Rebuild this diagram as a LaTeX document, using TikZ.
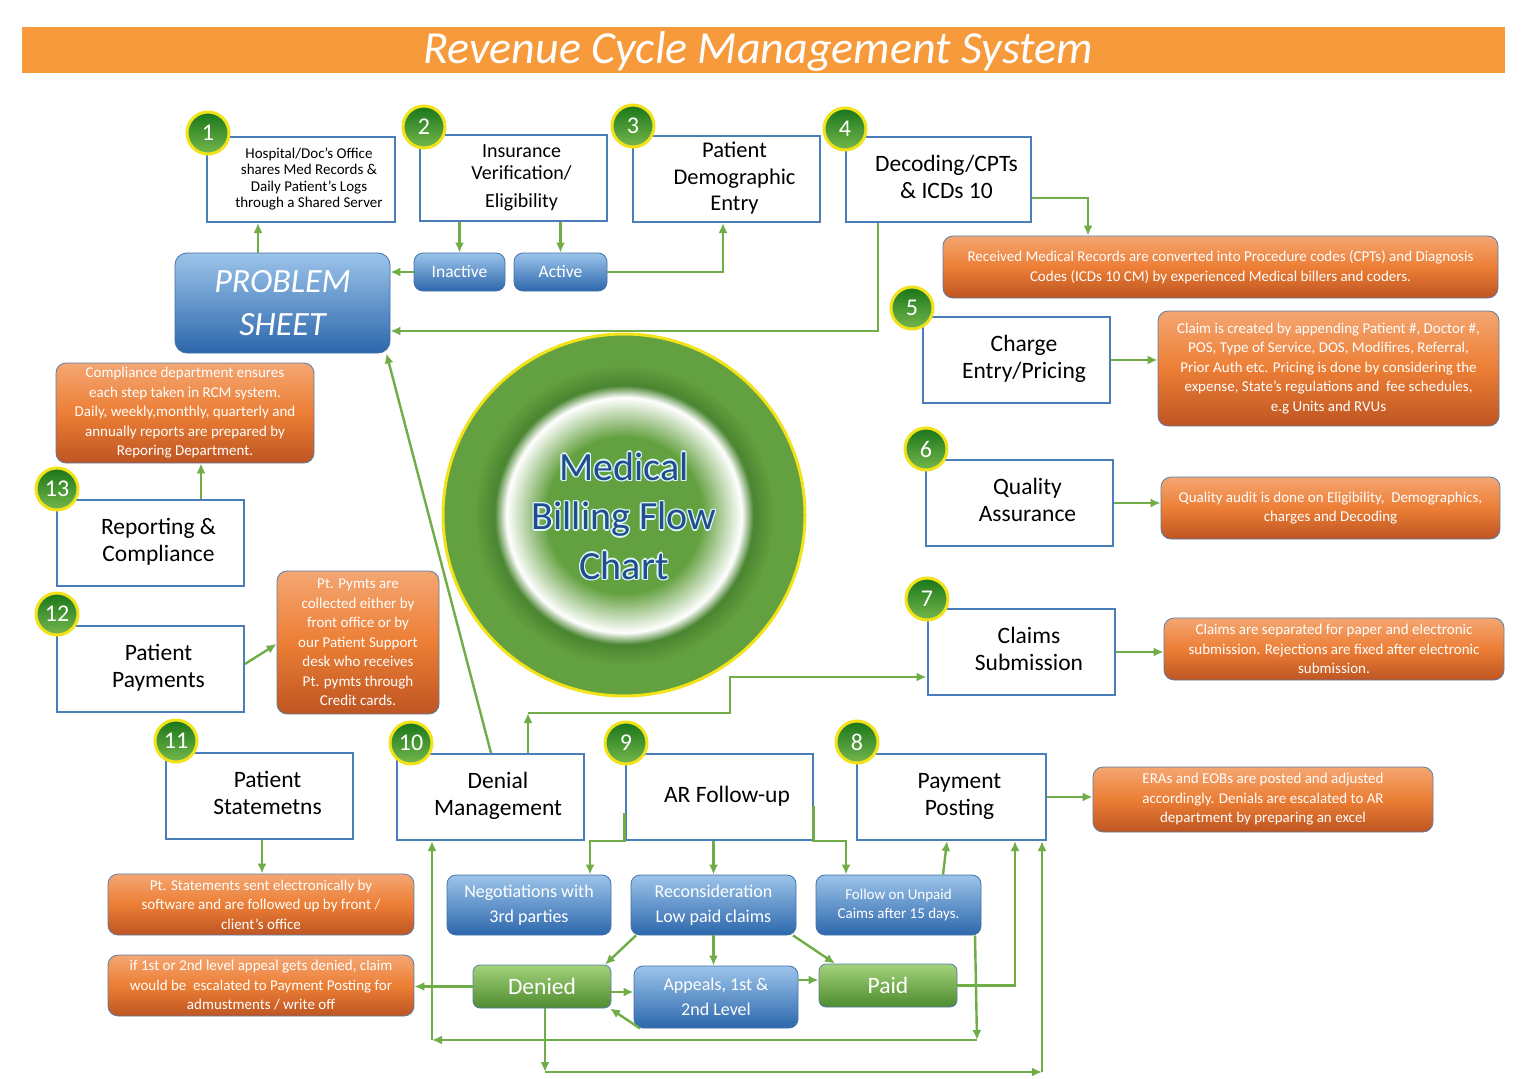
\documentclass[tikz,border=0pt]{standalone}
\usepackage{fontspec}
\setmainfont{Carlito}
\usepackage{tikz}
\usetikzlibrary{positioning, arrows.meta, shapes.geometric, shadings, calc}

\definecolor{barorange}{HTML}{F79A3B}
\definecolor{stepblue}{HTML}{4A7EBB}
\definecolor{flowgreen}{HTML}{70AD47}
\definecolor{ringyellow}{HTML}{F2E21A}
\definecolor{discgreen}{HTML}{63A03F}
\definecolor{darkdisc}{HTML}{4A8530}
\definecolor{chartblue}{HTML}{1F4E8C}
\definecolor{notetop}{HTML}{F4A672}
\definecolor{notemid}{HTML}{EC7E35}
\definecolor{notebot}{HTML}{BE5522}
\definecolor{boxtop}{HTML}{9CC4EA}
\definecolor{boxbot}{HTML}{2C67AC}
\definecolor{paidtop}{HTML}{A3D27A}
\definecolor{paidbot}{HTML}{4E8B2F}

\newcommand{\boxlines}[1]{\hspace*{16pt}\begin{tabular}{@{}c@{}}#1\end{tabular}}

\pgfdeclareradialshading{glowdisc}{\pgfpoint{0bp}{0bp}}{%
  color(0bp)=(discgreen); color(13bp)=(discgreen);
  color(19.6bp)=(white); color(21.6bp)=(darkdisc);
  color(25bp)=(discgreen); color(50bp)=(discgreen)}

\tikzset{
  stepbox/.style={draw=stepblue, line width=2pt, fill=white,
    minimum width=187pt, minimum height=86pt, inner sep=0pt,
    font=\fontsize{23.5}{27}\selectfont},
  numball/.style={circle, draw=ringyellow, line width=3pt, minimum size=42pt,
    inner sep=0pt, top color=green!40!black!90!white, bottom color=green!50!lime!60!black!70!white,
    text=white, font=\fontsize{24}{24}\selectfont},
  notebox/.style={draw=stepblue!70!gray, line width=0.8pt, rounded corners=10pt,
    top color=notetop, bottom color=notebot, middle color=notemid,
    text=white, align=center, inner sep=0pt,
    font=\fontsize{15}{19.5}\selectfont},
  bluebox/.style={draw=stepblue!90!black, line width=0.8pt, rounded corners=9pt,
    top color=boxtop, bottom color=boxbot,
    text=white, align=center, inner sep=0pt, font=\fontsize{18}{24.5}\selectfont},
  greenbox/.style={draw=stepblue!80!gray, line width=0.8pt, rounded corners=7pt,
    top color=paidtop, bottom color=paidbot,
    text=white, align=center, inner sep=0pt, font=\fontsize{23.5}{23.5}\selectfont},
  flow/.style={draw=flowgreen, line width=2.4pt, -{Latex[length=10pt,width=9pt]}},
  x=1pt, y=-1pt
}

\begin{document}
\begin{tikzpicture}
  \useasboundingbox (0,0) rectangle (1522,1078);
  \fill[white] (0,0) rectangle (1522,1078);

  % title bar
  \fill[barorange] (22,27) rectangle (1505,73);
  \node[text=white, font=\fontsize{46}{46}\selectfont\itshape] (title) at (758,51) {Revenue Cycle Management System};

  % center disc
  \draw[ringyellow, line width=3pt, fill=discgreen] (624,515) circle (181);
  \shade[shading=glowdisc] (624,515) circle (150);
  \foreach \a in {0,45,...,315} {
    \node[text=cyan!12!white, align=center, font=\fontsize{40}{49.5}\selectfont] (glow\a) at ($(624,516)+(\a:1.4)$) {Medical\\Billing Flow\\Chart};
  }
  \node[text=chartblue, align=center, font=\fontsize{40}{49.5}\selectfont] (chart) at (624,516) {Medical\\Billing Flow\\Chart};

  % problem sheet and insurance outcomes
  \node[bluebox, rounded corners=12pt, minimum width=215pt, minimum height=100pt,
    font=\fontsize{34}{43}\selectfont\itshape] (ps) at (282.5,303) {PROBLEM\\SHEET};
  \node[bluebox, minimum width=91pt, minimum height=38pt, font=\fontsize{17.5}{20}\selectfont] (inact) at (459.5,272) {Inactive};
  \node[bluebox, minimum width=93pt, minimum height=38pt, font=\fontsize{17.5}{20}\selectfont] (act) at (560.5,272) {Active};

  % steps
  \node[stepbox, minimum width=188pt, minimum height=85pt, font=\fontsize{15}{16.5}\selectfont] (hosp) at (301,179.5)
    {\boxlines{Hospital/Doc's Office\\shares Med Records \&\\Daily Patient's Logs\\through a Shared Server}};
  \node[stepbox, font=\fontsize{20}{22.5}\selectfont] (ins) at (513.5,178) {\boxlines{Insurance\\Verification/\\[5pt]Eligibility}};
  \node[stepbox, font=\fontsize{22.5}{26.5}\selectfont] (demo) at (726.5,179) {\boxlines{Patient\\Demographic\\Entry}};
  \node[stepbox, minimum width=185pt, minimum height=85pt] (dec) at (938.5,179.5) {\boxlines{Decoding/CPTs\\\& ICDs 10}};
  \node[stepbox] (chg) at (1016,360) {\boxlines{Charge\\Entry/Pricing}};
  \node[stepbox] (qa) at (1019.5,503) {\boxlines{Quality\\Assurance}};
  \node[stepbox] (clm) at (1021,652) {\boxlines{Claims\\Submission}};
  \node[stepbox, minimum width=189pt] (pay) at (951.5,797) {\boxlines{Payment\\Posting}};
  \node[stepbox] (ar) at (719,797) {\boxlines{AR Follow-up}};
  \node[stepbox] (den) at (490,797) {\boxlines{Denial\\Management}};
  \node[stepbox] (stm) at (259.5,796) {\boxlines{Patient\\Statemetns}};
  \node[stepbox] (ptpay) at (150.5,669) {\boxlines{Patient\\Payments}};
  \node[stepbox] (rep) at (150.5,543) {\boxlines{Reporting \&\\Compliance}};

  % numbers
  \node[numball] (n1) at (208,133) {1};
  \node[numball] (n2) at (424,127) {2};
  \node[numball] (n3) at (633,126) {3};
  \node[numball] (n4) at (845,129) {4};
  \node[numball] (n5) at (912,308) {5};
  \node[numball] (n6) at (926,449) {6};
  \node[numball] (n7) at (927,599) {7};
  \node[numball] (n8) at (857,742) {8};
  \node[numball] (n9) at (626,743) {9};
  \node[numball] (n10) at (411,743) {10};
  \node[numball] (n11) at (176,741) {11};
  \node[numball] (n12) at (57,614) {12};
  \node[numball] (n13) at (57,489) {13};

  % notes
  \node[notebox, minimum width=555pt, minimum height=62pt] (decnote) at (1220.5,267)
    {Received Medical Records are converted into Procedure codes (CPTs) and Diagnosis\\Codes (ICDs 10 CM) by experienced Medical billers and coders.};
  \node[notebox, minimum width=341pt, minimum height=115pt] (chgnote) at (1328.5,368.5)
    {Claim is created by appending Patient \#, Doctor \#,\\POS, Type of Service, DOS, Modifires, Referral,\\Prior Auth etc. Pricing is done by considering the\\expense, State's regulations and\ \ fee schedules,\\e.g Units and RVUs};
  \node[notebox, minimum width=339pt, minimum height=62pt] (qanote) at (1330.5,508)
    {Quality audit is done on Eligibility,\ \ Demographics,\\charges and Decoding};
  \node[notebox, minimum width=340pt, minimum height=62pt] (clmnote) at (1334,649)
    {Claims are separated for paper and electronic\\submission. Rejections are fixed after electronic\\submission.};
  \node[notebox, minimum width=340pt, minimum height=65pt] (paynote) at (1263,799.5)
    {ERAs and EOBs are posted and adjusted\\accordingly. Denials are escalated to AR\\department by preparing an excel};
  \node[notebox, minimum width=258pt, minimum height=100pt] (cmpnote) at (185,413)
    {Compliance department ensures\\each step taken in RCM system.\\Daily, weekly,monthly, quarterly and\\annually reports are prepared by\\Reporing Department.};
  \node[notebox, minimum width=162pt, minimum height=143pt] (ppnote) at (358,642.5)
    {Pt. Pymts are\\collected either by\\front office or by\\our Patient Support\\desk who receives\\Pt. pymts through\\Credit cards.};
  \node[notebox, minimum width=306pt, minimum height=61pt] (stnote) at (261,904.5)
    {Pt. Statements sent electronically by\\software and are followed up by front /\\client's office};
  \node[notebox, minimum width=306pt, minimum height=61pt] (apnote) at (261,985.5)
    {if 1st or 2nd level appeal gets denied, claim\\would be\ \ escalated to Payment Posting for\\admustments / write off};

  % AR outcomes
  \node[bluebox, minimum width=164pt, minimum height=60pt] (nego) at (529,905) {Negotiations with\\3rd parties};
  \node[bluebox, minimum width=165pt, minimum height=60pt] (recon) at (713.5,905) {Reconsideration\\Low paid claims};
  \node[bluebox, minimum width=165pt, minimum height=60pt, font=\fontsize{15}{19}\selectfont] (follow) at (898.5,905) {Follow on Unpaid\\Caims after 15 days.};
  \node[bluebox, minimum width=164pt, minimum height=62pt] (appeal) at (716,997) {Appeals, 1st \&\\2nd Level};
  \node[greenbox, minimum width=138pt, minimum height=43pt] (denied) at (542,986.5) {Denied};
  \node[greenbox, minimum width=138pt, minimum height=43pt] (paid) at (888,985.5) {Paid};

  % bend points
  \coordinate (decturn) at (878,331);
  \coordinate (claimup) at (528,713);
  \coordinate (followlow) at (977,1040);
  \coordinate (denmback) at (432,1040);
  \coordinate (deniedlow) at (545,1072);
  \coordinate (postlow) at (1042,1072);

  % top connectors
  \draw[flow] (ps.north -| 258,0) -- (hosp.south -| 258,0);
  \draw[flow] (ins.south -| inact.north) -- (inact.north);
  \draw[flow] (ins.south -| act.north) -- (act.north);
  \draw[flow] (inact.west) -- (ps.east |- inact.west);
  \draw[flow] (act.east) -| (demo.south -| 723,0);
  \draw[flow] (dec.south -| decturn) -- (decturn) -- (ps.east |- decturn);
  \draw[flow] (dec.east |- 0,198) -| (decnote.north -| 1088,0);

  % right hand notes
  \draw[flow] (chg.east) -- (chgnote.west |- chg.east);
  \draw[flow] (qa.east) -- (qanote.west |- qa.east);
  \draw[flow] (clm.east) -- (clmnote.west |- clm.east);
  \draw[flow] (pay.east) -- (paynote.west |- pay.east);

  % left hand notes
  \draw[flow] (rep.north -| 201,0) -- (cmpnote.south -| 201,0);
  \draw[flow] (ptpay.east |- 0,664) -- (ppnote.west |- 0,644);
  \draw[flow] (stm.south -| 262,0) -- (stnote.north -| 262,0);

  % denial management
  \draw[flow] (den.north -| 491,0) -- ($(ps.south east)+(-4,0)$);
  \draw[flow] (den.north -| claimup) -- (claimup);
  \draw[flow] (claimup) -| (730,677) -- (clm.west |- 0,677);

  % AR follow-up
  \draw[flow] (ar.west |- 0,813) -- (ar.south west) -| (nego.north -| 590,0);
  \draw[flow] (ar.south -| recon.north) -- (recon.north);
  \draw[flow] (ar.east |- 0,806) -- (ar.south east) -| (follow.north -| 846,0);
  \draw[flow] (follow.north -| 943,0) -- (pay.south -| 947,0);
  \draw[flow] (follow.south -| 975,0) -- (followlow);
  \draw[flow] (followlow) -- (denmback);
  \draw[flow] (denmback) -- (den.south -| denmback);

  % reconsideration and appeals
  \draw[flow] (recon.south) -- (appeal.north -| recon.south);
  \draw[flow] (recon.south west -| 636,0) -- (denied.north east -| 605,0);
  \draw[flow] (recon.south east -| 793,0) -- (paid.north -| 835,0);
  \draw[flow] (denied.east |- 0,992) -- (appeal.west |- 0,992);
  \draw[flow] (appeal.south west -| 640,0) -- (denied.south east -| 610,0);
  \draw[flow] (appeal.east |- 0,980) -- (paid.west |- 0,980);
  \draw[flow] (denied.west) -- (apnote.east |- denied.west);
  \draw[flow] (paid.east) -| (pay.south -| 1015,0);
  \draw[flow] (denied.south -| deniedlow) -- (deniedlow);
  \draw[flow] (deniedlow) -- (postlow);
  \draw[flow] (postlow) -- (pay.south -| postlow);

\end{tikzpicture}
\end{document}
